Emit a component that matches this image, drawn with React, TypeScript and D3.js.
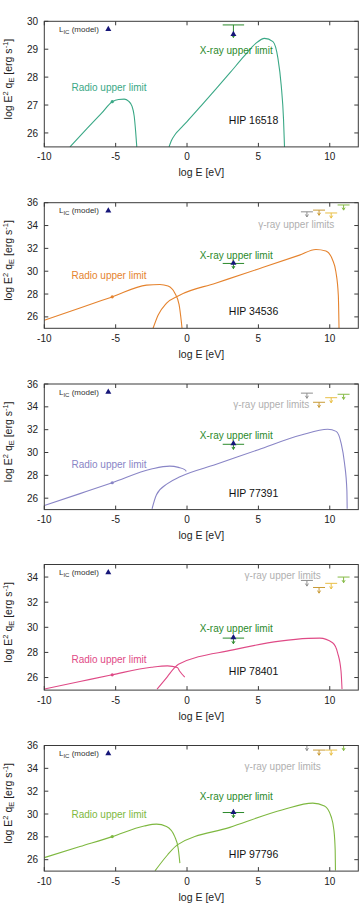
import React from "react";
import * as d3 from "d3";

// sources, one panel each
const stars = ["HIP 16518", "HIP 34536", "HIP 77391", "HIP 78401", "HIP 97796"];

const xTickValues = [-10, -5, 0, 5, 10];
const yRanges: [number, number][] = [[25.5, 30], [25, 36], [25, 36], [25, 35], [25, 36]];
const yTickValues = [
  [26, 27, 28, 29, 30],
  [26, 28, 30, 32, 34, 36],
  [26, 28, 30, 32, 34, 36],
  [26, 28, 30, 32, 34],
  [26, 28, 30, 32, 34, 36],
];

// synchrotron model curves, [log E, log E^2 q_E]
const radio16518 = [[-8.2, 25.5], [-7, 26.16], [-6, 26.7], [-5.24, 27.12], [-4.8, 27.2], [-4.4, 27.21], [-4.1, 27.14], [-3.85, 26.95], [-3.7, 26.6], [-3.6, 26.05], [-3.52, 25.5]];
const radio34536 = [[-10, 25.71], [-7.5, 26.78], [-5.24, 27.75], [-2.84, 28.78], [-1.9, 28.84], [-1.33, 28.7], [-0.86, 28.1], [-0.56, 27.1], [-0.4, 25.6], [-0.35, 25]];
const radio77391 = [[-10, 25.36], [-7.5, 26.4], [-5.24, 27.35], [-2.5, 28.55], [-1.21, 28.81], [-0.6, 28.7], [-0.16, 28.5], [-0.05, 28.35]];
const radio78401 = [[-10, 25.08], [-7.5, 25.68], [-5.24, 26.22], [-2.5, 26.82], [-1.37, 26.93], [-0.68, 26.8], [-0.51, 26.5], [-0.16, 26.03]];
const radio97796 = [[-10, 26.18], [-7.5, 27.15], [-5.24, 28.02], [-3, 28.95], [-2.14, 29.11], [-1.44, 28.9], [-0.86, 28.02], [-0.62, 27.0], [-0.5, 25.7]];

// inverse Compton model curves
const ic16518 = [[-1.26, 25.5], [-1.1, 25.72], [-0.8, 25.97], [-0.4, 26.19], [0, 26.41], [1, 26.98], [2, 27.56], [3, 28.15], [4, 28.75], [4.8, 29.2], [5.43, 29.39], [6.02, 29.27], [6.37, 28.67], [6.6, 27.7], [6.76, 26.5], [6.83, 25.5]];
const ic34536 = [[-2.38, 25], [-2.03, 26.15], [-1.45, 27.18], [-0.52, 27.9], [2, 28.95], [5, 30.2], [7.88, 31.41], [9.03, 31.9], [9.73, 31.77], [10.2, 30.98], [10.43, 29.95], [10.6, 27.9], [10.65, 25]];
const ic77391 = [[-2.45, 25.07], [-2.14, 26.3], [-1.37, 27.27], [-0.45, 27.9], [2, 28.95], [5, 30.25], [8, 31.53], [9.86, 32.04], [10.45, 31.85], [10.79, 30.85], [11.03, 29.1], [11.2, 26.7], [11.22, 25.07]];
const ic78401 = [[-2.1, 25.08], [-1.37, 26.08], [-0.9, 26.75], [-0.6, 27.05], [3.22, 28.2], [6.5, 28.9], [8.5, 29.12], [9.3, 29.14], [10.2, 28.77], [10.55, 27.97], [10.79, 26.5], [10.86, 25.08]];
const ic97796 = [[-2.24, 25.03], [-1.37, 26.41], [-0.68, 27.3], [3, 28.83], [6.71, 30.37], [8.81, 30.95], [9.63, 30.7], [10.1, 29.76], [10.29, 28.6], [10.38, 26.85], [10.4, 25.05]];

const radioCurves = [radio16518, radio34536, radio77391, radio78401, radio97796];
const icCurves = [ic16518, ic34536, ic77391, ic78401, ic97796];

// observational limits
const radioEnergy = -5.24;
const radioLimits = [27.12, 27.76, 27.35, 26.22, 28.02];
const xrayEnergy = 3.25;
const xrayBand: [number, number] = [2.5, 4.0];
const xrayLimits = [29.87, 30.68, 30.72, 29.14, 30.13];
const icAtXray = [29.55, 30.76, 30.84, 29.22, 30.2];
const gammaEnergies = [8.4, 9.25, 10.1, 10.97];
const gammaLimits: (number[] | null)[] = [
  null,
  [35.2, 35.35, 35.1, 35.8],
  [35.2, 34.4, 34.8, 35.1],
  [33.73, 33.17, 33.5, 34.0],
  [36.0, 35.6, 35.6, 36.0],
];

// label anchors in data units
const radioLabelY = [27.62, 29.6, 28.96, 27.41, 30.0];
const xrayLabelY = [28.97, 31.36, 31.5, 29.88, 31.49];
const gammaLabelAt: ([number, number] | null)[] = [null, [7.65, 34.13], [5.9, 34.24], [6.7, 34.16], [6.7, 34.18]];

const curveColors = ["#3aa886", "#e5832e", "#8985c6", "#df4a86", "#7eb840"];
const gammaColors = ["#8e8e8e", "#c99a35", "#e9bf45", "#86bb46"];
const xrayColor = "#2b8a2b";
const navy = "#161679";
const frameColor = "#3a3a3a";
const font = "'Liberation Sans', Arial, Helvetica, sans-serif";

const panelTops = [21.3, 202.7, 384, 564.5, 745.5];
const panelHeight = 125.6;
const left = 44.3;
const right = 358.3;

const x = d3.scaleLinear().domain([-10, 12]).range([left, right]);

function Panel({ i }: { i: number }) {
  const top = panelTops[i];
  const bottom = top + panelHeight;
  const y = d3.scaleLinear().domain(yRanges[i]).range([bottom, top]);
  const line = d3
    .line<number[]>()
    .x(d => x(d[0]))
    .y(d => y(d[1]))
    .curve(d3.curveMonotoneX);
  const color = curveColors[i];
  const clipId = `plot-clip-${i}`;
  const stem = 0.45;

  const upperLimit = (ex: number, ey: number, half: number, c: string, key: string) => {
    const yy = y(ey);
    const tip = y(ey - stem);
    return (
      <g key={key} stroke={c} strokeWidth={1} fill="none">
        <line x1={x(ex - half)} x2={x(ex + half)} y1={yy} y2={yy} />
        <line x1={x(ex)} x2={x(ex)} y1={yy} y2={tip} />
        <path d={`M${x(ex) - 1.5},${tip - 2.5}L${x(ex)},${tip}L${x(ex) + 1.5},${tip - 2.5}`} />
      </g>
    );
  };

  const tri = (cx: number, cy: number, s: number) =>
    `M${cx},${cy - s}L${cx + s},${cy + s * 0.75}L${cx - s},${cy + s * 0.75}Z`;

  const gl = gammaLimits[i];
  const ga = gammaLabelAt[i];
  const midY = (top + bottom) / 2 - 5;

  return (
    <g fontFamily={font}>
      <defs>
        <clipPath id={clipId}>
          <rect x={left} y={top} width={right - left} height={panelHeight} />
        </clipPath>
      </defs>

      {/* model curves */}
      <g clipPath={`url(#${clipId})`} fill="none" stroke={color} strokeWidth={1.1}>
        <path d={line(radioCurves[i]) ?? ""} />
        <path d={line(icCurves[i]) ?? ""} />
      </g>

      {/* radio limit marker */}
      <circle cx={x(radioEnergy)} cy={y(radioLimits[i])} r={1.6} fill={color} />

      {/* X-ray upper limit with model value */}
      {upperLimit(xrayEnergy, xrayLimits[i], (xrayBand[1] - xrayBand[0]) / 2, xrayColor, "xr")}
      <path d={tri(x(xrayEnergy), y(icAtXray[i]), 3)} fill={navy} />

      {/* gamma-ray upper limits */}
      {gl && gl.map((v, k) => upperLimit(gammaEnergies[k], v, 0.42, gammaColors[k], `g${k}`))}

      {/* frame and ticks */}
      <rect x={left} y={top} width={right - left} height={panelHeight} fill="none" stroke={frameColor} strokeWidth={1} />
      {xTickValues.map(t => (
        <g key={`xt${t}`} stroke={frameColor}>
          <line x1={x(t)} x2={x(t)} y1={bottom} y2={bottom - 4} />
          <line x1={x(t)} x2={x(t)} y1={top} y2={top + 4} />
        </g>
      ))}
      {yTickValues[i].map(t => (
        <g key={`yt${t}`} stroke={frameColor}>
          <line x1={left} x2={left + 4} y1={y(t)} y2={y(t)} />
          <line x1={right} x2={right - 4} y1={y(t)} y2={y(t)} />
        </g>
      ))}
      {xTickValues.map(t => (
        <text key={`xl${t}`} x={x(t)} y={bottom + 13.5} textAnchor="middle" fontSize={10} fill="#222">
          {t}
        </text>
      ))}
      {yTickValues[i].map(t => (
        <text key={`yl${t}`} x={38} y={y(t) + 3.6} textAnchor="end" fontSize={10} fill="#222">
          {t}
        </text>
      ))}

      {/* axis titles */}
      <text x={(left + right) / 2} y={bottom + 29.5} textAnchor="middle" fontSize={10.5} fill="#222">
        log E [eV]
      </text>
      <text transform={`translate(11.5,${midY}) rotate(-90)`} textAnchor="middle" fontSize={10.5} fill="#222">
        log E<tspan dy={-4} fontSize={7.5}>2</tspan>
        <tspan dy={4}> q</tspan>
        <tspan dy={2.5} fontSize={7.5}>E</tspan>
        <tspan dy={-2.5}> [erg s</tspan>
        <tspan dy={-4} fontSize={7.5}>-1</tspan>
        <tspan dy={4}>]</tspan>
      </text>

      {/* key */}
      <text x={59} y={top + 10.5} fontSize={8} fill="#333">
        L<tspan dy={2} fontSize={6}>IC</tspan>
        <tspan dy={-2}> (model)</tspan>
      </text>
      <path d={tri(108.3, top + 7.5, 3)} fill={navy} />

      {/* annotations */}
      <text x={x(-5.47)} y={y(radioLabelY[i]) + 3.5} textAnchor="middle" fontSize={10} fill={color}>
        Radio upper limit
      </text>
      <text x={x(3.45)} y={y(xrayLabelY[i]) + 3.5} textAnchor="middle" fontSize={10} fill={xrayColor}>
        X-ray upper limit
      </text>
      {ga && (
        <text x={x(ga[0])} y={y(ga[1]) + 3.5} textAnchor="middle" fontSize={10} fill="#b0b0b0">
          γ-ray upper limits
        </text>
      )}
      <text x={x(4.66)} y={y(26.47) + 3.8} textAnchor="middle" fontSize={10.5} fill="#111">
        {stars[i]}
      </text>
    </g>
  );
}

export default function App() {
  return (
    <svg
      width={364}
      height={910}
      style={{ position: "absolute", left: 0, top: 0, background: "#fff" }}
    >
      {stars.map((_, i) => (
        <Panel key={i} i={i} />
      ))}
    </svg>
  );
}
